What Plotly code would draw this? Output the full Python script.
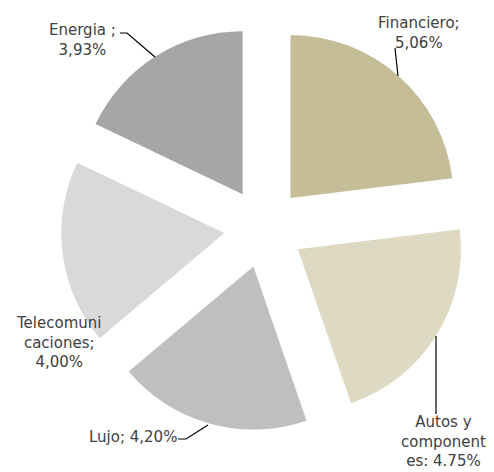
import plotly.graph_objects as go

# Data
categories = ["Financiero", "Autos y componentes", "Lujo", "Telecomunicaciones", "Energia"]
values = [5.06, 4.75, 4.20, 4.00, 3.93]
label_texts = [
    "Financiero;<br>5,06%",
    "Autos y<br>component<br>es: 4.75%",
    "Lujo; 4,20%",
    "Telecomuni<br>caciones;<br>4,00%",
    "Energia ;<br>3,93%",
]
colors = ["#C4BD97", "#DDD9C3", "#BFBFBF", "#D9D9D9", "#A6A6A6"]

W, H = 494, 472
L, R, T, B = 61, 27, 25, 41
PW, PH = W - L - R, H - T - B


def px(x, y):
    return (x - L) / PW, (H - B - y) / PH


fig = go.Figure(go.Pie(
    labels=categories,
    values=values,
    sort=False,
    direction="clockwise",
    rotation=0,
    pull=[0.245] * len(values),
    marker=dict(colors=colors, line=dict(width=0)),
    textinfo="none",
    hoverinfo="label+value",
    showlegend=False,
))

# label text positions (pixel centres) and leader line paths
label_pos = [(419, 33), (443, 442), (133, 437), (58, 342), (82, 40)]
leader_paths = [
    [(395, 48), (398, 76)],
    [(436, 336), (436, 414)],
    [(178, 439), (186, 439), (208, 425)],
    None,
    [(120, 33), (127, 33), (155, 57)],
]

font = dict(family="DejaVu Sans, sans-serif", size=15, color="#404040")
annotations = []
shapes = []
for txt, (cx, cy), path in zip(label_texts, label_pos, leader_paths):
    xp, yp = px(cx, cy)
    annotations.append(dict(
        x=xp, y=yp, xref="paper", yref="paper", text=txt, showarrow=False,
        font=font, align="center", xanchor="center", yanchor="middle",
    ))
    if path:
        pts = [px(a, b) for a, b in path]
        d = "M " + " L ".join(f"{a},{b}" for a, b in pts)
        shapes.append(dict(type="path", xref="paper", yref="paper", path=d,
                           line=dict(color="#000000", width=1.2)))

fig.update_layout(
    width=W, height=H,
    margin=dict(l=L, r=R, t=T, b=B),
    paper_bgcolor="white",
    plot_bgcolor="white",
    annotations=annotations,
    shapes=shapes,
)

fig.write_html(
    "out.html",
    config={"displayModeBar": False},
    post_script="document.body.style.margin='0';document.body.style.overflow='hidden';",
)
